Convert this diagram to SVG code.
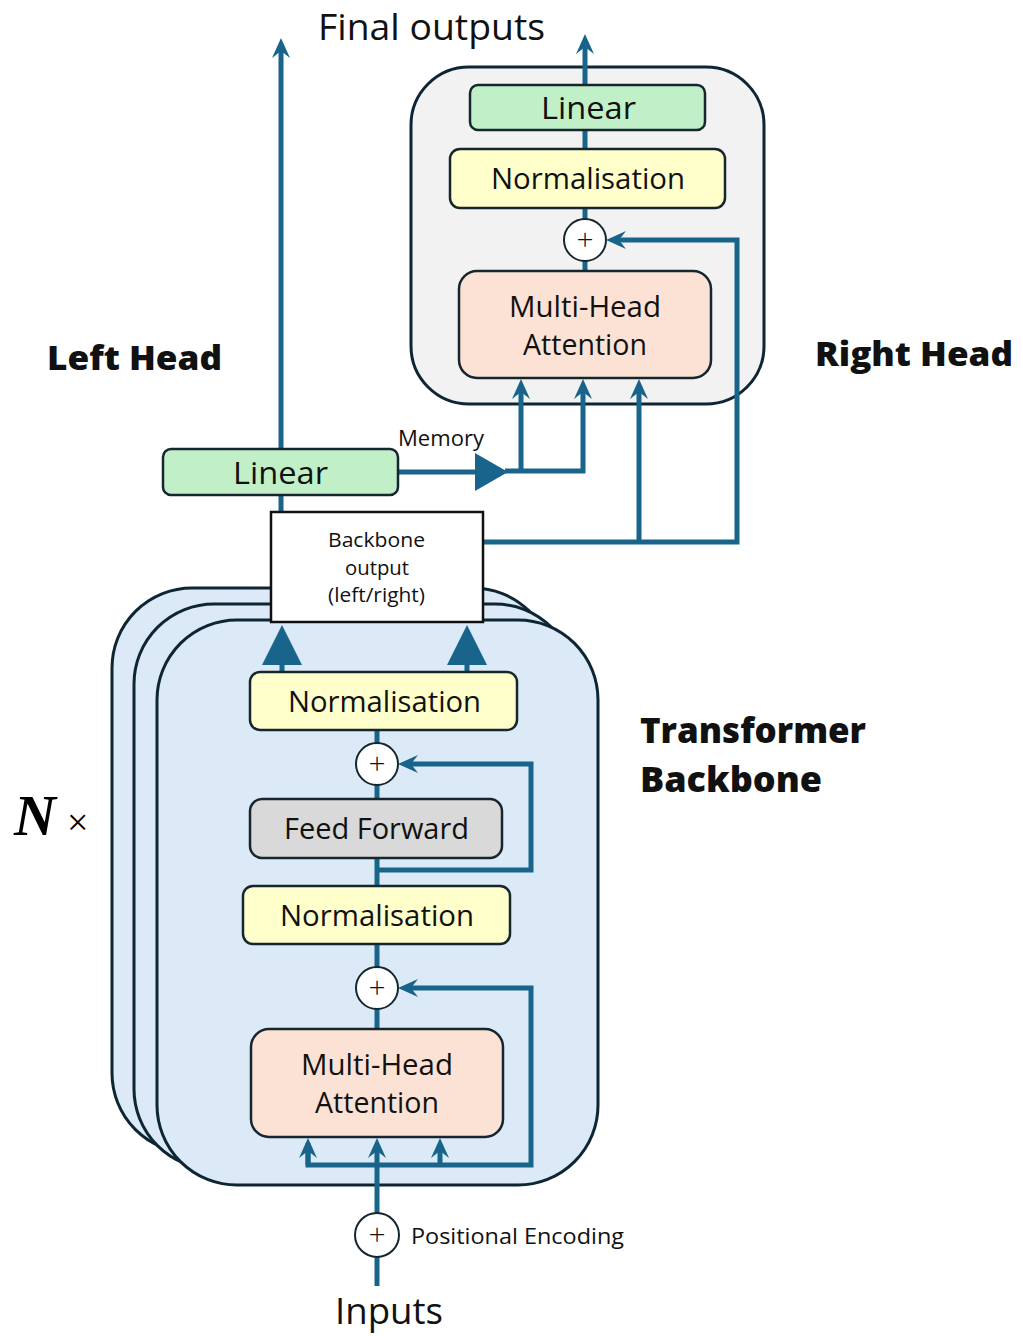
<svg xmlns="http://www.w3.org/2000/svg" width="1023" height="1336" viewBox="0 0 1023 1336">
<style>
.t{font-family:"Open Sans","Noto Sans","Liberation Sans",sans-serif;fill:#111;}
.b{font-family:"Open Sans","Noto Sans","Liberation Sans",sans-serif;font-weight:800;fill:#111;}
.node{stroke:#16262f;stroke-width:2.5;}
.frame{fill:#dce9f6;stroke:#0e2633;stroke-width:3;}
.ln{stroke:#18648a;stroke-width:5;fill:none;}
.plus{fill:#fff;stroke:#16262f;stroke-width:2;}
.lin{fill:#c1f0c8;}
.nrm{fill:#ffffcb;}
.mha{fill:#fbe2d5;}
.ff{fill:#d9d9d9;}
</style>
<defs>
<marker id="ah" viewBox="0 0 20 18" markerWidth="20" markerHeight="18" refX="12" refY="9" orient="auto" markerUnits="userSpaceOnUse">
<path d="M0,0 L20,9 L0,18 L7,9 Z" fill="#18648a"/>
</marker>
</defs>
<rect width="1023" height="1336" fill="#fff"/>

<!-- backbone stacked frames -->
<g id="backbone-stack">
<rect class="frame" x="112" y="588" width="441" height="565" rx="80"/>
<rect class="frame" x="134" y="604" width="441" height="565" rx="80"/>
<rect class="frame" x="157" y="620" width="441" height="565" rx="80"/>
</g>

<!-- right head frame -->
<g id="right-head-frame">
<rect x="411" y="67" width="353" height="337" rx="58" fill="#f2f2f2" stroke="#0e2633" stroke-width="3"/>
</g>

<!-- connectors -->
<g id="connectors">
<line class="ln" x1="281" y1="512" x2="281" y2="46" marker-end="url(#ah)"/>
<line class="ln" x1="585" y1="85" x2="585" y2="42" marker-end="url(#ah)"/>
<line class="ln" x1="585" y1="130" x2="585" y2="149"/>
<line class="ln" x1="585" y1="208" x2="585" y2="219"/>
<line class="ln" x1="585" y1="261" x2="585" y2="271"/>
<line class="ln" x1="398" y1="472" x2="480" y2="472"/>
<polygon points="475,453 508,472 475,491" fill="#18648a"/>
<polyline class="ln" points="505,471 583,471 583,387" marker-end="url(#ah)"/>
<line class="ln" x1="521" y1="471" x2="521" y2="387" marker-end="url(#ah)"/>
<polyline class="ln" points="483,542 737,542 737,240 614,240" marker-end="url(#ah)"/>
<line class="ln" x1="639" y1="542" x2="639" y2="387" marker-end="url(#ah)"/>
<line class="ln" x1="282" y1="672" x2="282" y2="660"/>
<polygon points="262,665 282,625 302,665" fill="#18648a"/>
<line class="ln" x1="467" y1="672" x2="467" y2="660"/>
<polygon points="447,665 467,625 487,665" fill="#18648a"/>
<line class="ln" x1="377" y1="730" x2="377" y2="743"/>
<line class="ln" x1="377" y1="785" x2="377" y2="799"/>
<line class="ln" x1="377" y1="858" x2="377" y2="886"/>
<polyline class="ln" points="377,870 531,870 531,764 406,764" marker-end="url(#ah)"/>
<line class="ln" x1="377" y1="944" x2="377" y2="967"/>
<line class="ln" x1="377" y1="1009" x2="377" y2="1029"/>
<polyline class="ln" points="308,1143 308,1165 531,1165 531,988 406,988" marker-end="url(#ah)"/>
<line class="ln" x1="308" y1="1165" x2="308" y2="1146" marker-end="url(#ah)"/>
<line class="ln" x1="440" y1="1165" x2="440" y2="1146" marker-end="url(#ah)"/>
<line class="ln" x1="377" y1="1213" x2="377" y2="1146" marker-end="url(#ah)"/>
<line class="ln" x1="377" y1="1257" x2="377" y2="1286"/>
</g>

<!-- right head nodes -->
<g id="rh-linear">
<rect class="node lin" x="470" y="85" width="235" height="45" rx="8"/>
<text class="t" x="541" y="119" font-size="31" textLength="95" lengthAdjust="spacingAndGlyphs">Linear</text>
</g>
<g id="rh-norm">
<rect class="node nrm" x="450" y="149" width="275" height="59" rx="10"/>
<text class="t" x="491" y="189" font-size="29" textLength="194" lengthAdjust="spacingAndGlyphs">Normalisation</text>
</g>
<g id="rh-plus">
<circle class="plus" cx="585" cy="240" r="21"/>
<text class="t" x="585" y="250" font-size="30" font-weight="300" text-anchor="middle">+</text>
</g>
<g id="rh-mha">
<rect class="node mha" x="459" y="271" width="252" height="107" rx="18"/>
<text class="t" x="509" y="317" font-size="29" textLength="152" lengthAdjust="spacingAndGlyphs">Multi-Head</text>
<text class="t" x="523" y="355" font-size="29" textLength="124" lengthAdjust="spacingAndGlyphs">Attention</text>
</g>

<!-- left head -->
<g id="lh-linear">
<rect class="node lin" x="163" y="449" width="235" height="46" rx="8"/>
<text class="t" x="233" y="484" font-size="31" textLength="95" lengthAdjust="spacingAndGlyphs">Linear</text>
</g>

<!-- backbone output -->
<g id="backbone-output">
<rect x="271" y="512" width="212" height="110" fill="#fff" stroke="#111" stroke-width="2.5"/>
<text class="t" x="328" y="547" font-size="20" textLength="97" lengthAdjust="spacingAndGlyphs">Backbone</text>
<text class="t" x="345" y="575" font-size="20" textLength="64" lengthAdjust="spacingAndGlyphs">output</text>
<text class="t" x="328" y="602" font-size="20" textLength="97" lengthAdjust="spacingAndGlyphs">(left/right)</text>
</g>

<!-- backbone nodes -->
<g id="bb-norm2">
<rect class="node nrm" x="250" y="672" width="267" height="58" rx="10"/>
<text class="t" x="288" y="712" font-size="29" textLength="193" lengthAdjust="spacingAndGlyphs">Normalisation</text>
</g>
<g id="bb-plus2">
<circle class="plus" cx="377" cy="764" r="21"/>
<text class="t" x="377" y="774" font-size="30" font-weight="300" text-anchor="middle">+</text>
</g>
<g id="bb-ff">
<rect class="node ff" x="250" y="799" width="252" height="59" rx="12"/>
<text class="t" x="284" y="839" font-size="29" textLength="185" lengthAdjust="spacingAndGlyphs">Feed Forward</text>
</g>
<g id="bb-norm1">
<rect class="node nrm" x="243" y="886" width="267" height="58" rx="10"/>
<text class="t" x="280" y="926" font-size="29" textLength="194" lengthAdjust="spacingAndGlyphs">Normalisation</text>
</g>
<g id="bb-plus1">
<circle class="plus" cx="377" cy="988" r="21"/>
<text class="t" x="377" y="998" font-size="30" font-weight="300" text-anchor="middle">+</text>
</g>
<g id="bb-mha">
<rect class="node mha" x="251" y="1029" width="252" height="108" rx="18"/>
<text class="t" x="301" y="1075" font-size="29" textLength="152" lengthAdjust="spacingAndGlyphs">Multi-Head</text>
<text class="t" x="315" y="1113" font-size="29" textLength="124" lengthAdjust="spacingAndGlyphs">Attention</text>
</g>
<g id="pos-enc">
<circle class="plus" cx="377" cy="1235" r="22"/>
<text class="t" x="377" y="1245" font-size="30" font-weight="300" text-anchor="middle">+</text>
<text class="t" x="411" y="1244" font-size="22" textLength="213" lengthAdjust="spacingAndGlyphs">Positional Encoding</text>
</g>

<!-- labels -->
<text class="t" x="318" y="40" font-size="36" textLength="227" lengthAdjust="spacingAndGlyphs">Final outputs</text>
<text class="t" x="335" y="1324" font-size="36" textLength="108" lengthAdjust="spacingAndGlyphs">Inputs</text>
<text class="t" x="398" y="446" font-size="21" textLength="86" lengthAdjust="spacingAndGlyphs">Memory</text>
<text class="b" x="47" y="370" font-size="34" textLength="175" lengthAdjust="spacingAndGlyphs">Left Head</text>
<text class="b" x="815" y="366" font-size="34" textLength="198" lengthAdjust="spacingAndGlyphs">Right Head</text>
<text class="b" x="640" y="743" font-size="35" textLength="226" lengthAdjust="spacingAndGlyphs">Transformer</text>
<text class="b" x="640" y="792" font-size="35" textLength="182" lengthAdjust="spacingAndGlyphs">Backbone</text>
<text x="14" y="835" font-size="58" font-family="Liberation Serif,serif" font-weight="bold" font-style="italic" fill="#000">N</text>
<text x="67" y="835" font-size="38" font-family="Liberation Serif,serif" fill="#000">×</text>
</svg>
